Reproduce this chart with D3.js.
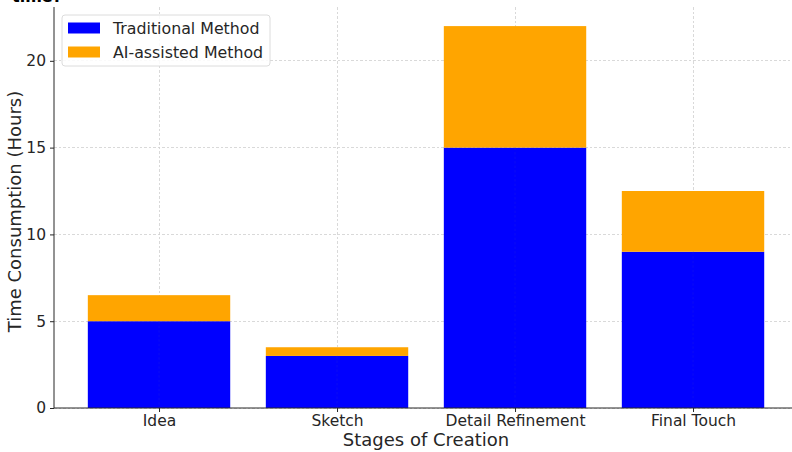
<!DOCTYPE html>
<html>
<head>
<meta charset="utf-8">
<script src="https://cdn.jsdelivr.net/npm/d3@7"></script>
<style>
  html, body { margin: 0; padding: 0; background: #fff; }
  svg { display: block; font-family: "DejaVu Sans", sans-serif; }
</style>
</head>
<body>
<svg id="chart" width="792" height="452"></svg>
<script>
// Hours spent on each creative stage, stacked by method
const stages = ["Idea", "Sketch", "Detail Refinement", "Final Touch"];
const traditional = [5, 3, 15, 9];
const aiAssisted = [1.5, 0.5, 7, 3.5];
const yTicks = [0, 5, 10, 15, 20];
const seriesNames = ["Traditional Method", "AI-assisted Method"];
const seriesColors = ["#0000ff", "#ffa500"];

const svg = d3.select("#chart");
const W = 792, H = 452;
const plotLeft = 54, plotTop = 7, plotBottom = 408;

// Category positions: bars centred on integer positions
const x = d3.scaleLinear().domain([-0.59, 3.99]).range([plotLeft, plotLeft + 4.58 * 178]);
const barW = 0.8;
const y = d3.scaleLinear().domain([0, 23.1]).range([plotBottom, plotTop]);

const rows = stages.map((s, i) => ({ stage: s, idx: i, trad: traditional[i], ai: aiAssisted[i] }));
const stack = d3.stack().keys(["trad", "ai"])(rows);

// Heading sits mostly above the top edge
svg.append("text")
  .attr("x", 12).attr("y", 1.5)
  .attr("font-size", 16).attr("font-weight", "bold")
  .attr("fill", "#000")
  .text("time?");

// Grid
const grid = svg.append("g").attr("stroke", "#d0d0d0").attr("stroke-width", 0.8)
  .attr("stroke-dasharray", "2.5,2").attr("shape-rendering", "crispEdges");
yTicks.forEach(t => {
  grid.append("line").attr("x1", plotLeft).attr("x2", W).attr("y1", y(t)).attr("y2", y(t));
});
stages.forEach((s, i) => {
  grid.append("line").attr("x1", x(i)).attr("x2", x(i)).attr("y1", plotTop).attr("y2", plotBottom);
});

// Bars
stack.forEach((layer, k) => {
  svg.append("g").attr("fill", seriesColors[k])
    .selectAll("rect").data(layer).enter().append("rect")
    .attr("x", d => x(d.data.idx - barW / 2))
    .attr("width", d => x(d.data.idx + barW / 2) - x(d.data.idx - barW / 2))
    .attr("y", d => y(d[1]))
    .attr("height", d => y(d[0]) - y(d[1]));
});

// Faint grid showing through the blue segments
const grid2 = svg.append("g").attr("stroke", "#3a3acc").attr("stroke-width", 0.6)
  .attr("stroke-dasharray", "2.5,2").attr("opacity", 0.35);
stages.forEach((s, i) => {
  grid2.append("line").attr("x1", x(i)).attr("x2", x(i)).attr("y1", y(traditional[i])).attr("y2", plotBottom);
});

// Axes
const yAxis = d3.axisLeft(y).tickValues(yTicks).tickSize(4).tickPadding(4);
const gy = svg.append("g").attr("transform", `translate(${plotLeft},0)`).call(yAxis);
gy.select(".domain").remove();
gy.selectAll("text").attr("font-size", 15.5).attr("fill", "#262626").attr("font-family", "DejaVu Sans");
gy.selectAll("line").attr("stroke", "#262626");

const xAxis = d3.axisBottom(x).tickValues(d3.range(stages.length)).tickFormat(i => stages[i]).tickSize(4).tickPadding(3);
const gx = svg.append("g").attr("transform", `translate(0,${plotBottom})`).call(xAxis);
gx.select(".domain").remove();
gx.selectAll("text").attr("font-size", 15.5).attr("fill", "#262626").attr("font-family", "DejaVu Sans");
gx.selectAll("line").attr("stroke", "#262626");

// Spines
svg.append("line").attr("x1", plotLeft).attr("x2", plotLeft).attr("y1", plotTop).attr("y2", plotBottom)
  .attr("stroke", "#262626").attr("stroke-width", 1);
svg.append("line").attr("x1", plotLeft).attr("x2", W).attr("y1", plotBottom).attr("y2", plotBottom)
  .attr("stroke", "#262626").attr("stroke-width", 1);

// Axis titles
svg.append("text").attr("x", x(1.5)).attr("y", 446)
  .attr("text-anchor", "middle").attr("font-size", 18).attr("fill", "#262626")
  .text("Stages of Creation");
svg.append("text").attr("transform", `translate(21,${(plotTop + plotBottom) / 2 + 4}) rotate(-90)`)
  .attr("text-anchor", "middle").attr("font-size", 18).attr("fill", "#262626")
  .text("Time Consumption (Hours)");

// Legend
const lg = svg.append("g");
lg.append("rect").attr("x", 62).attr("y", 15).attr("width", 208).attr("height", 51)
  .attr("rx", 3).attr("fill", "#fff").attr("fill-opacity", 0.85)
  .attr("stroke", "#dcdcdc").attr("stroke-width", 1);
seriesNames.forEach((name, k) => {
  const cy = 28 + k * 24;
  lg.append("rect").attr("x", 68).attr("y", cy - 5.5).attr("width", 32).attr("height", 11)
    .attr("fill", seriesColors[k]);
  lg.append("text").attr("x", 113).attr("y", cy + 5.5).attr("font-size", 15.8)
    .attr("fill", "#262626").text(name);
});
</script>
</body>
</html>
